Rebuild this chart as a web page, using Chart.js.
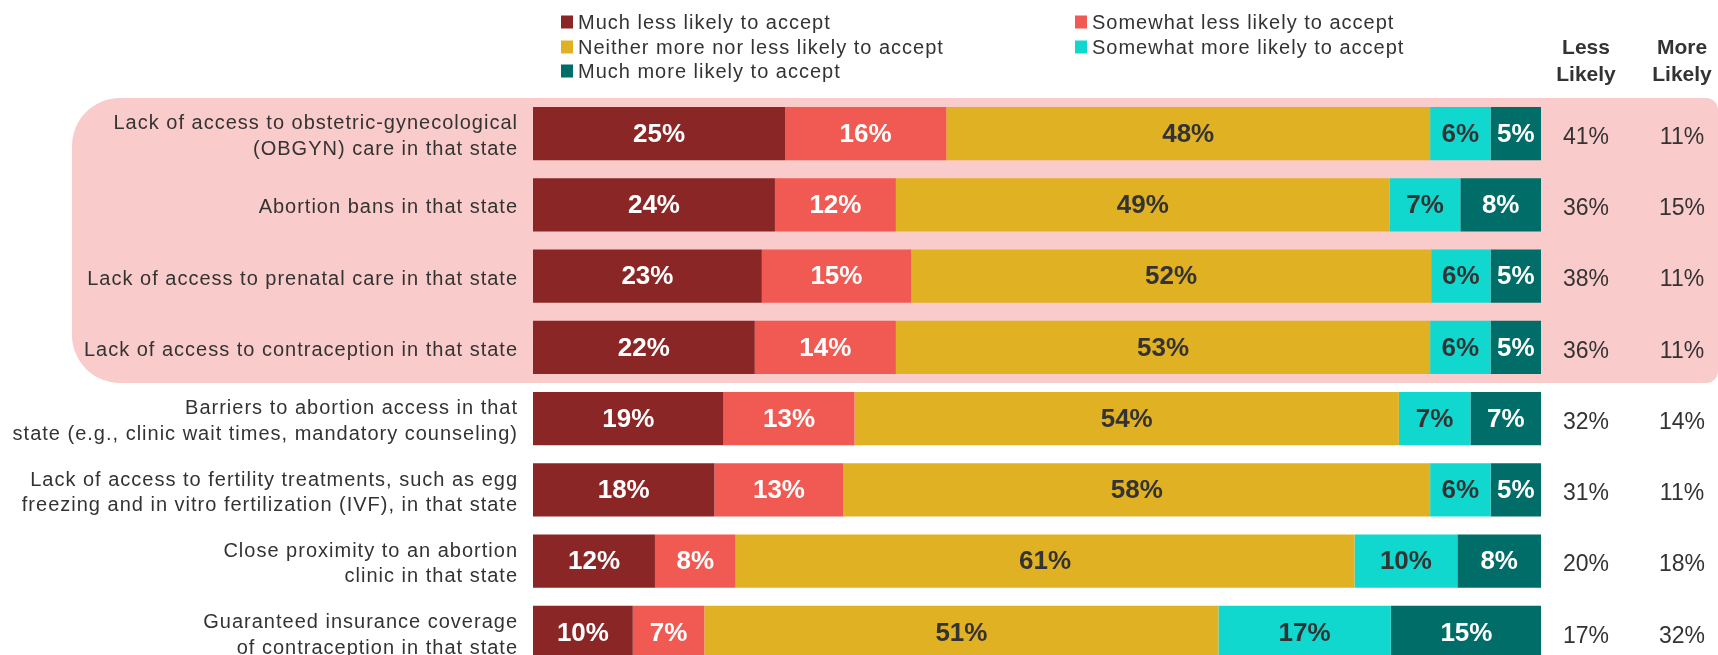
<!DOCTYPE html>
<html>
<head>
<meta charset="utf-8">
<script src="https://cdn.jsdelivr.net/npm/chart.js@4.4.1/dist/chart.umd.min.js"></script>
<style>
  html, body { margin: 0; padding: 0; background: #fff; overflow: hidden; }
  #wrap { width: 1718px; height: 668px; position: relative; }
</style>
</head>
<body>
<div id="wrap"><canvas id="acceptChart"></canvas></div>
<script>
// ── Data ───────────────────────────────────────────────────────────────────
const categories = [
  ["Lack of access to obstetric-gynecological", "(OBGYN) care in that state"],
  "Abortion bans in that state",
  "Lack of access to prenatal care in that state",
  "Lack of access to contraception in that state",
  ["Barriers to abortion access in that", "state (e.g., clinic wait times, mandatory counseling)"],
  ["Lack of access to fertility treatments, such as egg", "freezing and in vitro fertilization (IVF), in that state"],
  ["Close proximity to an abortion", "clinic in that state"],
  ["Guaranteed insurance coverage", "of contraception in that state"],
];

const seriesNames = [
  "Much less likely to accept",
  "Somewhat less likely to accept",
  "Neither more nor less likely to accept",
  "Somewhat more likely to accept",
  "Much more likely to accept",
];

const muchLess = [25, 24, 22.7, 22, 18.9, 18, 12.1, 9.9];
const somewhatLess = [16, 12, 14.8, 14, 13, 12.8, 8, 7.1];
const neither = [48, 49, 51.6, 53, 54, 58.2, 61.4, 51];
const somewhatMore = [6, 7, 5.9, 6, 7.1, 6, 10.2, 17.1];
const muchMore = [5, 8, 5, 5, 7, 5, 8.3, 15];

const lessLikely = [41, 36, 38, 36, 32, 31, 20, 17];
const moreLikely = [11, 15, 11, 11, 14, 11, 18, 32];

const highlightedRows = 4;

// ── Styles ─────────────────────────────────────────────────────────────────
const FONT = "'Liberation Sans', Arial, Helvetica, sans-serif";
const TEXT = "#333333";
const colors = ["#8B2626", "#F05A52", "#E1B124", "#10D8CF", "#006D69"];
const labelColors = ["#ffffff", "#ffffff", TEXT, TEXT, "#ffffff"];

// pink rounded panel behind the first rows
const panelPlugin = {
  id: "panelPlugin",
  beforeDraw(chart) {
    const { ctx } = chart;
    const y = chart.scales.y;
    const band = y.getPixelForValue(1) - y.getPixelForValue(0);
    const top = y.getPixelForValue(0) - band / 2;
    const bottom = y.getPixelForValue(highlightedRows - 1) + band / 2;
    ctx.save();
    ctx.fillStyle = "#F9CBCA";
    ctx.beginPath();
    ctx.roundRect(72, top, 1718 - 72, bottom - top, [48, 12, 12, 48]);
    ctx.fill();
    ctx.restore();
    ctx.letterSpacing = "1px";
  },
};

// values inside bars, side columns, headers, legend
const textPlugin = {
  id: "textPlugin",
  afterDatasetsDraw(chart) {
    const { ctx } = chart;
    ctx.save();
    ctx.letterSpacing = "0px";
    ctx.textAlign = "center";
    ctx.textBaseline = "middle";
    ctx.font = "bold 26px " + FONT;
    chart.data.datasets.forEach((dataset, di) => {
      const meta = chart.getDatasetMeta(di);
      ctx.fillStyle = labelColors[di];
      meta.data.forEach((bar, i) => {
        const v = dataset.data[i];
        ctx.fillText(Math.round(v) + "%", (bar.x + bar.base) / 2, bar.y + 1);
      });
    });

    const rows = chart.getDatasetMeta(0).data;
    ctx.font = "23px " + FONT;
    ctx.fillStyle = TEXT;
    rows.forEach((bar, i) => {
      ctx.fillText(lessLikely[i] + "%", 1586, bar.y + 4);
      ctx.fillText(moreLikely[i] + "%", 1682, bar.y + 4);
    });

    ctx.font = "bold 21px " + FONT;
    ctx.fillText("Less", 1586, 48);
    ctx.fillText("Likely", 1586, 75);
    ctx.fillText("More", 1682, 48);
    ctx.fillText("Likely", 1682, 75);

    const legendPos = [[561, 22], [1075, 22], [561, 47], [1075, 47], [561, 71]];
    ctx.font = "20px " + FONT;
    ctx.letterSpacing = "1px";
    ctx.textAlign = "left";
    seriesNames.forEach((name, i) => {
      const [x, y] = legendPos[i];
      ctx.fillStyle = colors[i];
      ctx.fillRect(x, y - 6.5, 12, 13);
      ctx.fillStyle = TEXT;
      ctx.fillText(name, x + 17, y + 1);
    });
    ctx.restore();
  },
};

const datasets = [muchLess, somewhatLess, neither, somewhatMore, muchMore].map((data, i) => ({
  label: seriesNames[i],
  data,
  backgroundColor: colors[i],
  borderWidth: 0,
  barPercentage: 0.745,
  categoryPercentage: 1,
}));

new Chart(document.getElementById("acceptChart"), {
  type: "bar",
  data: { labels: categories, datasets },
  options: {
    indexAxis: "y",
    responsive: true,
    maintainAspectRatio: false,
    animation: false,
    layout: { padding: { left: 0, right: 177, top: 98, bottom: 0 } },
    plugins: {
      legend: { display: false },
      tooltip: { enabled: false },
    },
    scales: {
      x: {
        stacked: true,
        display: false,
        min: 0,
        max: 100,
      },
      y: {
        stacked: true,
        grid: { display: false, drawTicks: false },
        border: { display: false },
        ticks: {
          color: TEXT,
          padding: 15,
          labelOffset: 3,
          font: { family: FONT, size: 20, lineHeight: 1.275 },
        },
        afterFit(scale) {
          scale.width = 533;
          scale.paddingTop = 0;
          scale.paddingBottom = 0;
        },
      },
    },
  },
  plugins: [panelPlugin, textPlugin],
});
</script>
</body>
</html>
